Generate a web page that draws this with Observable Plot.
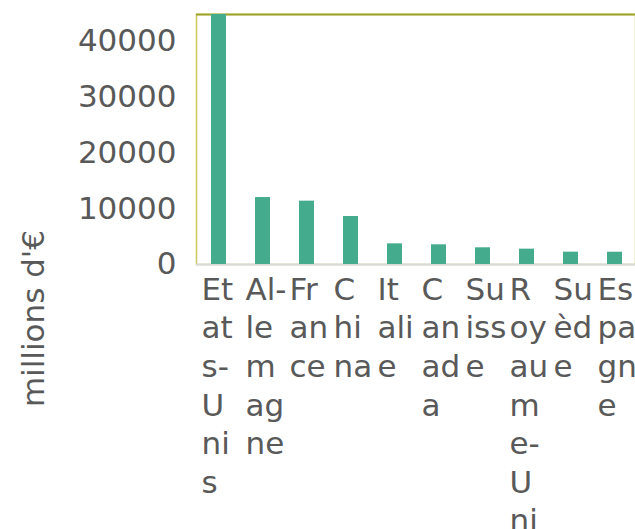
<!DOCTYPE html>
<html>
<head>
<meta charset="utf-8">
<script src="https://cdn.jsdelivr.net/npm/d3@7"></script>
<script src="https://cdn.jsdelivr.net/npm/@observablehq/plot@0.6"></script>
<style>
  html, body { margin: 0; padding: 0; background: #fff; }
  svg { display: block; font-family: "DejaVu Sans", sans-serif; }
</style>
</head>
<body>
<div id="chart"></div>
<script>
const categories = ["Etats-Unis", "Allemagne", "France", "Chine", "Italie", "Canada", "Suisse", "Royaume-Uni", "Suède", "Espagne"];
const values = [44800, 12000, 11350, 8600, 3700, 3530, 2990, 2750, 2210, 2200];
const wrappedLabels = [
  "Et\nat\ns-\nU\nni\ns",
  "Al-\nle\nm\nag\nne",
  "Fr\nan\nce",
  "C\nhi\nna",
  "It\nali\ne",
  "C\nan\nad\na",
  "Su\niss\ne",
  "R\noy\nau\nm\ne-\nU\nni",
  "Su\nèd\ne",
  "Es\npa\ngn\ne"
];
const yTicks = [0, 10000, 20000, 30000, 40000];
const yLabel = "millions d'€";
const yMax = 44800;

const data = categories.map((c, i) => ({cat: c, value: values[i], label: wrappedLabels[i]}));

const chart = Plot.plot({
  width: 635,
  height: 529,
  marginTop: 14,
  marginBottom: 265,
  marginLeft: 196,
  marginRight: 0,
  style: {fontFamily: "DejaVu Sans, sans-serif", background: "#fff", overflow: "visible"},
  x: {domain: categories, range: [196, 636], paddingInner: 0.66, paddingOuter: 0.33, axis: null},
  y: {domain: [0, yMax], axis: null},
  marks: [
    Plot.frame({stroke: "#c9c85f", strokeWidth: 1.5}),
    Plot.ruleY([yMax], {stroke: "#9ba42a", strokeWidth: 2}),
    Plot.ruleY([0], {stroke: "#d9d9d9", strokeWidth: 2}),
    Plot.barY(data, {x: "cat", y: "value", fill: "#44ab8c"}),
    Plot.text(yTicks, {
      y: d => d, frameAnchor: "left", text: d => String(d),
      textAnchor: "end", dx: -20, fontSize: 31, fill: "#595959"
    }),
    Plot.text(data, {
      x: "cat", y: 0, text: "label", textAnchor: "start", lineAnchor: "top",
      dx: -17.5, dy: 8, lineHeight: 1.245, fontSize: 31, fill: "#595959"
    }),
    Plot.text([yLabel], {
      frameAnchor: "left", text: d => d, rotate: -90, textAnchor: "middle",
      dx: -162, dy: 179, fontSize: 31, fill: "#595959"
    })
  ]
});
document.getElementById("chart").appendChild(chart);
</script>
</body>
</html>
